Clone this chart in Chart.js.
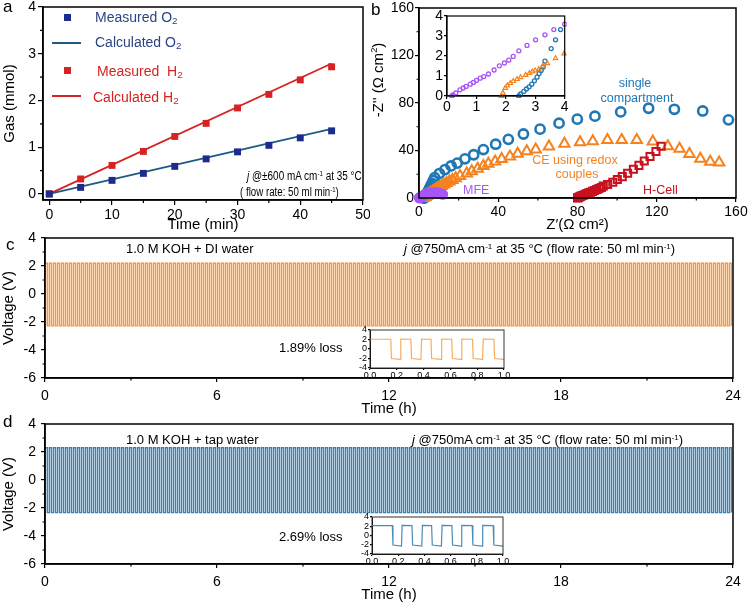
<!DOCTYPE html>
<html><head><meta charset="utf-8">
<script src="https://cdn.jsdelivr.net/npm/chart.js@4.4.1/dist/chart.umd.min.js"></script>
<style>
html,body{margin:0;padding:0;background:#fff;}
#wrap{position:relative;width:748px;height:604px;overflow:hidden;font-family:'Liberation Sans',Arial,Helvetica,sans-serif;}
canvas{position:absolute;}
.t{position:absolute;white-space:nowrap;line-height:1;color:#000;}
.t sub{font-size:70%;vertical-align:-0.25em;line-height:0;}
.t sup{font-size:62%;vertical-align:0.55em;line-height:0;}
.mk{position:absolute;}
</style></head><body><div id="wrap">
<canvas id="ca" width="370" height="234" style="left:0;top:0"></canvas>
<canvas id="cb" width="378" height="234" style="left:370px;top:0"></canvas>
<canvas id="cbi" width="155" height="112" style="left:415px;top:10px"></canvas>
<canvas id="cc" width="748" height="186" style="left:0;top:232px"></canvas>
<canvas id="cci" width="170" height="60" style="left:340px;top:322px"></canvas>
<canvas id="cd" width="748" height="186" style="left:0;top:418px"></canvas>
<canvas id="cdi" width="170" height="60" style="left:342px;top:509px"></canvas>
</div>
<script>
// ---------- Panel a data ----------
const gasTime = [0, 5, 10, 15, 20, 25, 30, 35, 40, 45];
const measuredO2 = [0, 0.14, 0.29, 0.44, 0.59, 0.75, 0.90, 1.04, 1.20, 1.35];
const measuredH2 = [0, 0.32, 0.61, 0.91, 1.23, 1.51, 1.84, 2.13, 2.44, 2.72];
const calcTime = [0, 45];
const calcO2 = [0, 1.39];
const calcH2 = [0, 2.79];

// ---------- Panel b data (Nyquist) ----------
const scX = [2.44, 2.5, 2.61, 2.7, 2.79, 2.88, 2.97, 3.06, 3.13, 3.2, 3.27, 3.33, 3.54, 3.69, 3.86, 4.2, 4.6, 5.0, 5.5, 6.0, 6.6, 7.2, 7.9, 10.3, 13.1, 16.2, 19.3, 23.2, 27.6, 32.5, 38.7, 45.1, 52.7, 61.1, 70.7, 79.9, 88.8, 101.8, 115.9, 128.9, 143.2, 156.2];
const scY = [0, 0.1, 0.23, 0.35, 0.46, 0.59, 0.76, 0.94, 1.12, 1.28, 1.45, 1.74, 2.37, 2.81, 3.32, 4.3, 5.6, 7.0, 8.6, 10.3, 12.2, 14.6, 17.2, 20.6, 23.9, 27.0, 29.4, 33.0, 36.4, 40.8, 45.3, 49.4, 53.9, 58.0, 63.0, 66.4, 68.9, 72.5, 75.6, 74.7, 73.3, 65.8];
const ceX = [1.85, 1.9, 1.98, 2.05, 2.15, 2.25, 2.38, 2.5, 2.67, 2.8, 2.9, 3.0, 3.12, 3.25, 3.41, 3.69, 3.98, 4.4, 4.9, 5.5, 6.1, 6.8, 7.6, 8.4, 9.3, 10.3, 11.4, 12.6, 13.9, 15.3, 16.8, 18.5, 20.7, 24.1, 26.6, 29.6, 32.5, 35.0, 38.4, 41.7, 45.9, 49.8, 54.4, 58.9, 65.6, 73.4, 81.3, 87.7, 95.1, 102.3, 109.9, 118.0, 125.6, 131.5, 136.5, 142.0, 147.0, 151.5];
const ceY = [0, 0.15, 0.4, 0.52, 0.64, 0.74, 0.84, 0.93, 1.05, 1.14, 1.22, 1.27, 1.33, 1.48, 1.63, 1.88, 2.12, 2.6, 3.1, 3.8, 4.5, 5.3, 6.2, 7.1, 8.1, 9.1, 10.2, 11.4, 12.6, 13.9, 15.2, 16.7, 18.6, 20.6, 22.5, 24.7, 27.0, 28.9, 30.8, 32.8, 35.0, 37.2, 39.4, 40.8, 43.3, 45.6, 46.9, 47.8, 48.9, 48.9, 48.9, 47.5, 43.6, 41.5, 37.0, 33.0, 30.5, 30.0];
const hcX = [80, 80.3, 80.7, 81.2, 81.8, 82.5, 83.2, 84.0, 84.8, 85.7, 86.6, 87.6, 88.6, 89.7, 90.8, 92.0, 93.0, 95.2, 97.8, 100.1, 102.6, 105.3, 108.2, 111.0, 113.7, 116.6, 119.6, 122.2];
const hcY = [0, 0.3, 0.7, 1.1, 1.6, 2.1, 2.6, 3.1, 3.7, 4.3, 4.9, 5.6, 6.3, 7.1, 7.9, 8.9, 10.0, 11.4, 13.3, 15.6, 18.0, 20.8, 24.2, 27.5, 31.1, 35.0, 39.2, 43.6];
const mfeX = [0.16, 0.2, 0.3, 0.44, 0.55, 0.65, 0.79, 0.9, 1.0, 1.13, 1.25, 1.41, 1.6, 1.78, 1.95, 2.1, 2.25, 2.44, 2.72, 3.01, 3.33, 3.63, 4.0, 4.6, 5.3, 6.1, 7.0, 8.0, 9.0, 10.0, 11.0, 12.0];
const mfeY = [0, 0.05, 0.15, 0.31, 0.4, 0.48, 0.59, 0.68, 0.78, 0.89, 0.97, 1.1, 1.3, 1.51, 1.65, 1.79, 1.98, 2.26, 2.53, 2.81, 3.06, 3.32, 3.59, 3.9, 4.2, 4.45, 4.6, 4.6, 4.45, 4.1, 3.65, 3.1];

// ---------- Panels c, d data (galvanostatic cycling) ----------
const cycleHours = 0.139535;                    // one charge/discharge cycle (~172 cycles in 24 h)
const waveStart = 0.0174;                       // first switching time (h)
const cycleTime = [0, 0.069767, 0.069767, 0.139535]; // points inside one cycle (h)
const cCycleV = [2.2, 2.2, -2.28, -2.28];       // DI water
const dCycleV = [2.3, 2.3, -2.33, -2.33];       // tap water
const insetT = [0, 0.155, 0.16, 0.225, 0.23, 0.305, 0.31, 0.38, 0.385, 0.455, 0.46, 0.53, 0.535, 0.61, 0.615, 0.68, 0.685, 0.765, 0.77, 0.84, 0.845, 0.925, 0.93, 1.0];
const cInsetV = [2.05, 2.05, -2.0, -2.2, 2.1, 2.05, -2.0, -2.2, 2.1, 2.05, -2.0, -2.2, 2.1, 2.05, -2.0, -2.2, 2.1, 2.05, -2.0, -2.2, 2.1, 2.05, -2.0, -2.2];
const dInsetV = [2.15, 2.15, -2.05, -2.3, 2.2, 2.15, -2.05, -2.3, 2.2, 2.15, -2.05, -2.3, 2.2, 2.15, -2.05, -2.3, 2.2, 2.15, -2.05, -2.3, 2.2, 2.15, -2.05, -2.3];

// ---------- tick labels ----------
const aXTicks = [0, 10, 20, 30, 40, 50];
const aYTicks = [0, 1, 2, 3, 4];
const bTicks = [0, 40, 80, 120, 160];
const bInsetTicks = [0, 1, 2, 3, 4];
const timeTicks = [0, 6, 12, 18, 24];
const voltTicks = [-6, -4, -2, 0, 2, 4];
const insetXTicks = [0, 0.2, 0.4, 0.6, 0.8, 1.0];
const insetYTicks = [-4, -2, 0, 2, 4];

const FONT = "'Liberation Sans', Arial, Helvetica, sans-serif";
Chart.defaults.font.family = FONT;
Chart.defaults.color = '#000';

const zip = (xs, ys) => xs.map((x, i) => ({x, y: ys[i]}));
function buildWave(levels) {
  const pts = [{x: 0, y: levels[2]}];
  for (let k = 0; waveStart + k * cycleHours < 24; k++) {
    const t0 = waveStart + k * cycleHours;
    pts.push({x: t0, y: levels[2]});
    cycleTime.forEach((dt, i) => { if (t0 + dt <= 24) pts.push({x: t0 + dt, y: levels[i]}); });
  }
  return pts;
}

const framePlugin = {
  id: 'frame',
  afterDraw(chart, args, o) {
    const a = chart.chartArea, ctx = chart.ctx;
    ctx.save(); ctx.strokeStyle = o.color || '#000'; ctx.lineWidth = o.width || 1.5;
    ctx.strokeRect(a.left, a.top, a.right - a.left, a.bottom - a.top);
    ctx.restore();
  }
};
const minorPlugin = {
  id: 'minorTicks',
  afterDraw(chart, args, o) {
    const ctx = chart.ctx;
    (o.axes || []).forEach(ax => {
      const s = chart.scales[ax.id];
      ctx.save(); ctx.strokeStyle = '#000'; ctx.lineWidth = 1.2; ctx.beginPath();
      for (let v = ax.start; v <= s.max + 1e-9; v += ax.step) {
        if (v < s.min - 1e-9) continue;
        const p = s.getPixelForValue(v);
        if (s.isHorizontal()) { ctx.moveTo(p, s.top); ctx.lineTo(p, s.top + ax.len); }
        else { ctx.moveTo(s.right, p); ctx.lineTo(s.right - ax.len, p); }
      }
      ctx.stroke(); ctx.restore();
    });
  }
};
Chart.register(framePlugin, minorPlugin);

function scale(o) {
  const ticksArr = o.ticks;
  return {
    type: 'linear', position: o.pos, min: o.min, max: o.max,
    afterFit(s) {
      if (s.isHorizontal()) s.height = o.size; else s.width = o.size;
      s.paddingTop = 0; s.paddingBottom = 0; s.paddingLeft = 0; s.paddingRight = 0;
    },
    afterBuildTicks(s) { s.ticks = ticksArr.map(v => ({value: v})); },
    ticks: {
      color: '#000', font: {family: FONT, size: o.fs || 14}, padding: o.pad ?? 2,
      maxRotation: 0, minRotation: 0, autoSkip: false,
      callback: v => o.fmt ? o.fmt(v) : String(v)
    },
    grid: {drawOnChartArea: false, drawTicks: true, tickLength: o.tl ?? 5, color: '#000', lineWidth: 1.2},
    border: {display: true, color: '#000', width: o.bw || 1.5},
    title: o.title ? {display: true, text: o.title, color: '#000', font: {family: FONT, size: 15}, padding: {top: o.tp ?? 0, bottom: o.tp ?? 0}} : {display: false}
  };
}
function baseOpts(pad, scales, plugins) {
  return {
    responsive: false, animation: false, devicePixelRatio: 1,
    layout: {padding: pad},
    scales,
    plugins: Object.assign({legend: {display: false}, tooltip: {enabled: false}}, plugins)
  };
}

// ---------- Panel a ----------
const NAVY = '#1c2b8c', TEAL = '#1f5a86', RED = '#d62222';
new Chart(document.getElementById('ca'), {
  type: 'scatter',
  data: {datasets: [
    {data: zip(gasTime, measuredO2), pointStyle: 'rect', pointRadius: 4.9, backgroundColor: NAVY, borderColor: NAVY, borderWidth: 0},
    {data: zip(gasTime, measuredH2), pointStyle: 'rect', pointRadius: 4.9, backgroundColor: RED, borderColor: RED, borderWidth: 0},
    {data: zip(calcTime, calcO2), showLine: true, pointRadius: 0, borderColor: TEAL, borderWidth: 1.8},
    {data: zip(calcTime, calcH2), showLine: true, pointRadius: 0, borderColor: RED, borderWidth: 1.8}
  ]},
  options: baseOpts({left: 0, top: 7, right: 7, bottom: 0}, {
    x: scale({pos: 'bottom', min: -1, max: 50, ticks: aXTicks, size: 34, title: 'Time (min)', pad: 2}),
    y: scale({pos: 'left', min: -0.13, max: 4, ticks: aYTicks, size: 43, title: 'Gas (mmol)', tp: 1, pad: 2})
  }, {frame: {}, minorTicks: {axes: [{id: 'x', start: 5, step: 10, len: 3}, {id: 'y', start: 0.5, step: 1, len: 3}]}})
});

// ---------- Panel b ----------
const BLUE = '#1f77b4', ORANGE = '#f5821f', DRED = '#c8101e', PURPLE = '#a855f7';
new Chart(document.getElementById('cb'), {
  type: 'scatter',
  data: {datasets: [
    {data: zip(mfeX, mfeY), pointStyle: 'circle', pointRadius: 4.2, borderWidth: 2.4, borderColor: PURPLE, backgroundColor: 'rgba(0,0,0,0)', clip: 6},
    {data: zip(hcX, hcY), pointStyle: 'rect', pointRadius: 5, borderWidth: 2, borderColor: DRED, backgroundColor: 'rgba(0,0,0,0)', clip: 6},
    {data: zip(ceX, ceY), pointStyle: 'triangle', pointRadius: 6, borderWidth: 2, borderColor: ORANGE, backgroundColor: 'rgba(0,0,0,0)', clip: 6},
    {data: zip(scX, scY), pointStyle: 'circle', pointRadius: 4.6, borderWidth: 2.6, borderColor: BLUE, backgroundColor: 'rgba(0,0,0,0)', clip: 6}
  ]},
  options: baseOpts({left: 0, top: 6, right: 12, bottom: 0}, {
    x: scale({pos: 'bottom', min: 0, max: 160, ticks: bTicks, size: 36, title: 'Z\u2032(\u03A9 cm\u00B2)', pad: 2, tl: 4}),
    y: scale({pos: 'left', min: 0, max: 160, ticks: bTicks, size: 49, pad: 1, tl: 4})
  }, {frame: {}, minorTicks: {axes: [{id: 'x', start: 20, step: 40, len: 2.5}, {id: 'y', start: 20, step: 40, len: 2.5}]}})
});

// ---------- Panel b inset ----------
new Chart(document.getElementById('cbi'), {
  type: 'scatter',
  data: {datasets: [
    {data: zip(mfeX, mfeY), pointStyle: 'circle', pointRadius: 2, borderWidth: 1.3, borderColor: PURPLE, backgroundColor: 'rgba(0,0,0,0)', clip: 2},
    {data: zip(ceX, ceY), pointStyle: 'triangle', pointRadius: 2.6, borderWidth: 1.2, borderColor: ORANGE, backgroundColor: 'rgba(0,0,0,0)', clip: 2},
    {data: zip(scX, scY), pointStyle: 'circle', pointRadius: 2, borderWidth: 1.3, borderColor: BLUE, backgroundColor: 'rgba(0,0,0,0)', clip: 2}
  ]},
  options: baseOpts({left: 0, top: 6, right: 5, bottom: 0}, {
    x: scale({pos: 'bottom', min: 0, max: 4, ticks: bInsetTicks, size: 26, pad: 0, tl: 3, fs: 14, bw: 1.2}),
    y: scale({pos: 'left', min: 0, max: 4, ticks: bInsetTicks, size: 32, pad: 1, tl: 3, fs: 14, bw: 1.2})
  }, {frame: {width: 1.2}})
});

// ---------- Panels c and d ----------
function cyclePanel(id, levels, color) {
  new Chart(document.getElementById(id), {
    type: 'scatter',
    data: {datasets: [{data: buildWave(levels), showLine: true, pointRadius: 0, borderColor: color, borderWidth: 1.4, tension: 0}]},
    options: baseOpts({left: 0, top: 6, right: 15, bottom: 0}, {
      x: scale({pos: 'bottom', min: 0, max: 24, ticks: timeTicks, size: 40, title: 'Time (h)', pad: 6, tl: 4}),
      y: scale({pos: 'left', min: -6, max: 4, ticks: voltTicks, size: 45, title: 'Voltage (V)', tp: 0, pad: 5, tl: 4})
    }, {frame: {}, minorTicks: {axes: [{id: 'x', start: 3, step: 6, len: 2.5}, {id: 'y', start: -5, step: 2, len: 2.5}]}})
  });
}
cyclePanel('cc', cCycleV, '#f5973a');
cyclePanel('cd', dCycleV, '#3f82b0');

function insetPanel(id, vals, color, padR, xh) {
  new Chart(document.getElementById(id), {
    type: 'scatter',
    data: {datasets: [{data: zip(insetT, vals), showLine: true, pointRadius: 0, borderColor: color, borderWidth: 1.2, tension: 0}]},
    options: baseOpts({left: 0, top: 8, right: padR, bottom: 0}, {
      x: scale({pos: 'bottom', min: 0, max: 1, ticks: insetXTicks, size: xh, pad: 0, tl: 2, fs: 9, bw: 1, fmt: v => v.toFixed(1)}),
      y: scale({pos: 'left', min: -4, max: 4, ticks: insetYTicks, size: 30, pad: 1, tl: 2, fs: 9, bw: 1})
    }, {frame: {width: 1, color: '#333'}})
  });
}
insetPanel('cci', cInsetV, '#f7ac5c', 6, 14);
insetPanel('cdi', dInsetV, '#4a8cb6', 9, 15);

// ---------- text overlays ----------
const wrap = document.getElementById('wrap');
function txt(html, left, cy, size, color, extra) {
  const d = document.createElement('div');
  d.className = 't';
  d.innerHTML = html;
  d.style.left = left + 'px';
  d.style.top = (cy - 0.49 * size) + 'px';
  d.style.fontSize = size + 'px';
  if (color) d.style.color = color;
  if (extra) Object.assign(d.style, extra);
  wrap.appendChild(d);
  return d;
}
function mark(left, top, w, h, color) {
  const d = document.createElement('div');
  d.className = 'mk';
  Object.assign(d.style, {left: left + 'px', top: top + 'px', width: w + 'px', height: h + 'px', background: color});
  wrap.appendChild(d);
}
// panel letters
txt('a', 3, 6, 17); txt('b', 371, 9, 17); txt('c', 6, 244, 17); txt('d', 3, 421, 17);
// panel a legend
const O2TXT = '#2a4583';
mark(63.5, 13.5, 7, 7, NAVY); txt('Measured O<sub>2</sub>', 95, 17, 14, O2TXT);
mark(52, 42, 29, 2, TEAL); txt('Calculated O<sub>2</sub>', 95, 42, 14, O2TXT);
mark(63.5, 66.5, 7, 7, RED); txt('Measured&nbsp; H<sub>2</sub>', 97, 71, 14, RED);
mark(52, 95, 29, 2, RED); txt('Calculated H<sub>2</sub>', 93, 97, 14, RED);
txt('<i>j</i> @\u00B1600 mA cm<sup>-1</sup> at 35 \u00B0C', 247, 176, 12, null, {transform: 'scaleX(0.83)', transformOrigin: 'left center'});
txt('( flow rate: 50 ml min<sup>-1</sup>)', 240, 192, 12, null, {transform: 'scaleX(0.81)', transformOrigin: 'left center'});
// panel b
const by = txt('-Z\'\' (\u03A9 cm<sup>2</sup>)', 377, 80, 15, null, {transform: 'translate(-50%,-50%) rotate(-90deg)'});
by.style.top = '80px';
txt('single', 635, 83, 12.5, BLUE, {transform: 'translateX(-50%)'});
txt('compartment', 637, 98, 12.5, BLUE, {transform: 'translateX(-50%)'});
txt('CE using redox', 575, 160, 12.5, ORANGE, {transform: 'translateX(-50%)'});
txt('couples', 577, 174, 12.5, ORANGE, {transform: 'translateX(-50%)'});
txt('MFE', 463, 190, 12.5, PURPLE);
txt('H-Cell', 643, 190, 12.5, DRED);
// panel c
txt('1.0 M KOH + DI water', 126, 248, 13);
txt('<i>j</i> @750mA cm<sup>-1</sup> at 35 \u00B0C (flow rate: 50 ml min<sup>-1</sup>)', 404, 248, 13);
txt('1.89% loss', 279, 347, 13);
// panel d
txt('1.0 M KOH + tap water', 126, 439, 13);
txt('<i>j</i> @750mA cm<sup>-1</sup> at 35 \u00B0C (flow rate: 50 ml min<sup>-1</sup>)', 412, 439, 13);
txt('2.69% loss', 279, 536, 13);
</script></body></html>
